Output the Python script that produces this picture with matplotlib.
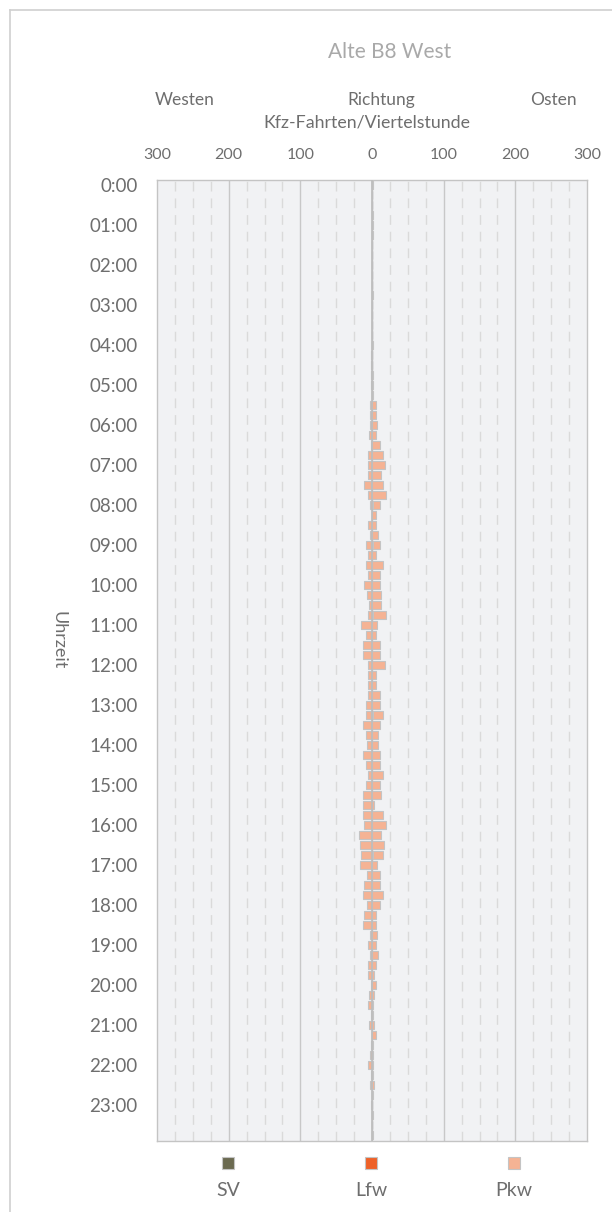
import numpy as np
import matplotlib.pyplot as plt
from matplotlib.lines import Line2D
from matplotlib.patches import Rectangle

plt.rcParams['font.family'] = ['Lato', 'DejaVu Sans']

# Kfz-Fahrten je Viertelstunde (96 Intervalle, 0:00 - 23:45)
west_total = [0, 0, 0, 0, 0, 0, 0, 0, 0, 0, 0, 0, 0, 0, 0, 0,
              0, 1, 1, 1, 1, 0, 3, 3, 3, 4, 2, 5, 5, 5, 11, 6,
              3, 0, 6, 3, 8, 6, 9, 6, 11, 7, 4, 6, 15, 9, 12, 12,
              6, 6, 6, 6, 9, 9, 12, 9, 7, 12, 9, 5, 9, 12, 12, 13,
              11, 18, 17, 15, 17, 7, 11, 12, 7, 11, 12, 3, 6, 3, 6, 6,
              1, 4, 6, 2, 4, 0, 1, 3, 5, 1, 3, 0, 1, 0, 0, 0]
east_total = [1, 0, 0, 1, 1, 1, 0, 0, 0, 0, 0, 1, 0, 0, 0, 0,
              1, 0, 0, 1, 1, 2, 5, 5, 7, 6, 11, 15, 18, 12, 16, 19,
              11, 6, 6, 9, 11, 6, 15, 11, 11, 13, 12, 20, 7, 6, 11, 11,
              18, 6, 5, 11, 11, 16, 11, 9, 9, 11, 11, 15, 11, 13, 3, 15,
              19, 12, 17, 16, 7, 11, 11, 15, 11, 6, 6, 7, 6, 9, 5, 3,
              6, 3, 2, 2, 3, 5, 2, 2, 2, 1, 3, 1, 0, 1, 0, 1]

west_sv = np.zeros(96)
west_lfw = np.zeros(96)
east_sv = np.zeros(96)
east_lfw = np.zeros(96)
west_sv[[30, 53, 68]] = 1
west_lfw[[36, 45, 50]] = 1
east_sv[[43, 53]] = 2
east_lfw[[32, 36, 67]] = 2

west_pkw = np.array(west_total) - west_sv - west_lfw
east_pkw = np.array(east_total) - east_sv - east_lfw

hour_labels = ['0:00'] + ['%02d:00' % h for h in range(1, 24)]

c_sv = '#6b6a50'
c_lfw = '#ee6128'
c_pkw = '#f5b394'
c_edge = '#c4c4c4'
c_text = '#6e6e6e'

fig = plt.figure(figsize=(6.12, 12.12), dpi=100)
ax = fig.add_axes([157 / 612, 71 / 1212, 430 / 612, 961 / 1212])
ax.set_facecolor('#f1f2f4')

y = np.arange(96)
h = 0.8
kw = dict(height=h, edgecolor=c_edge, linewidth=0.8, zorder=3)

# Westen nach links (negativ), Osten nach rechts
ax.barh(y, -west_sv, left=0, color=c_sv, **kw)
ax.barh(y, -west_lfw, left=-west_sv, color=c_lfw, **kw)
ax.barh(y, -west_pkw, left=-(west_sv + west_lfw), color=c_pkw, **kw)
ax.barh(y, east_sv, left=0, color=c_sv, **kw)
ax.barh(y, east_lfw, left=east_sv, color=c_lfw, **kw)
ax.barh(y, east_pkw, left=east_sv + east_lfw, color=c_pkw, **kw)

ax.set_xlim(-300, 300)
ax.set_ylim(95.6, -0.5)

for xv in np.arange(-275, 300, 25):
    if xv % 100 == 0:
        ax.axvline(xv, color='#c8c8c8', lw=1.0, zorder=1)
    else:
        ax.axvline(xv, color='#dadada', lw=1.0, ls=(0, (7, 5)), zorder=1)
ax.axvline(0, color='#bdbdbd', lw=1.2, zorder=4)

ax.xaxis.tick_top()
ax.set_xticks(np.arange(-300, 301, 100))
ax.set_xticklabels([str(abs(v)) for v in range(-300, 301, 100)])
ax.set_yticks(np.arange(0, 96, 4))
ax.set_yticklabels(hour_labels)
ax.tick_params(axis='x', length=0, pad=13, labelsize=11.5, labelcolor=c_text)
ax.tick_params(axis='y', length=0, pad=14, labelsize=13.5, labelcolor=c_text)
for s in ax.spines.values():
    s.set_color('#c4c4c4')
    s.set_linewidth(1.0)

fig.text(58 / 612, 1 - 640 / 1212, 'Uhrzeit', rotation=270, ha='center',
         va='center', fontsize=13, color=c_text)

fig.text(390 / 612, 1 - 52 / 1212, 'Alte B8 West', ha='center', va='center',
         fontsize=15, color='#a9a9a9')
fig.text(185 / 612, 1 - 100 / 1212, 'Westen', ha='center', va='center',
         fontsize=12.5, color=c_text)
fig.text(381 / 612, 1 - 100 / 1212, 'Richtung', ha='center', va='center',
         fontsize=12.5, color=c_text)
fig.text(367 / 612, 1 - 122 / 1212, 'Kfz-Fahrten/Viertelstunde', ha='center',
         va='center', fontsize=12.8, color=c_text)
fig.text(553 / 612, 1 - 100 / 1212, 'Osten', ha='center', va='center',
         fontsize=12.5, color=c_text)

# Legende: Quadrat über Beschriftung
for xc, name, col in [(228, 'SV', c_sv), (371, 'Lfw', c_lfw), (514, 'Pkw', c_pkw)]:
    fig.add_artist(Rectangle(((xc - 6) / 612, 1 - 1169 / 1212), 12 / 612, 12 / 1212,
                             transform=fig.transFigure, facecolor=col,
                             edgecolor=c_edge, lw=0.8))
    fig.text(xc / 612, 1 - 1190 / 1212, name, ha='center', va='center',
             fontsize=14, color=c_text)

# Rahmen
fig.add_artist(Line2D([10 / 612, 10 / 612], [0, 1 - 10 / 1212],
                      transform=fig.transFigure, color='#d0d0d0', lw=1.2))
fig.add_artist(Line2D([10 / 612, 1], [1 - 10 / 1212, 1 - 10 / 1212],
                      transform=fig.transFigure, color='#d0d0d0', lw=1.2))

fig.savefig('out.png', dpi=100)
